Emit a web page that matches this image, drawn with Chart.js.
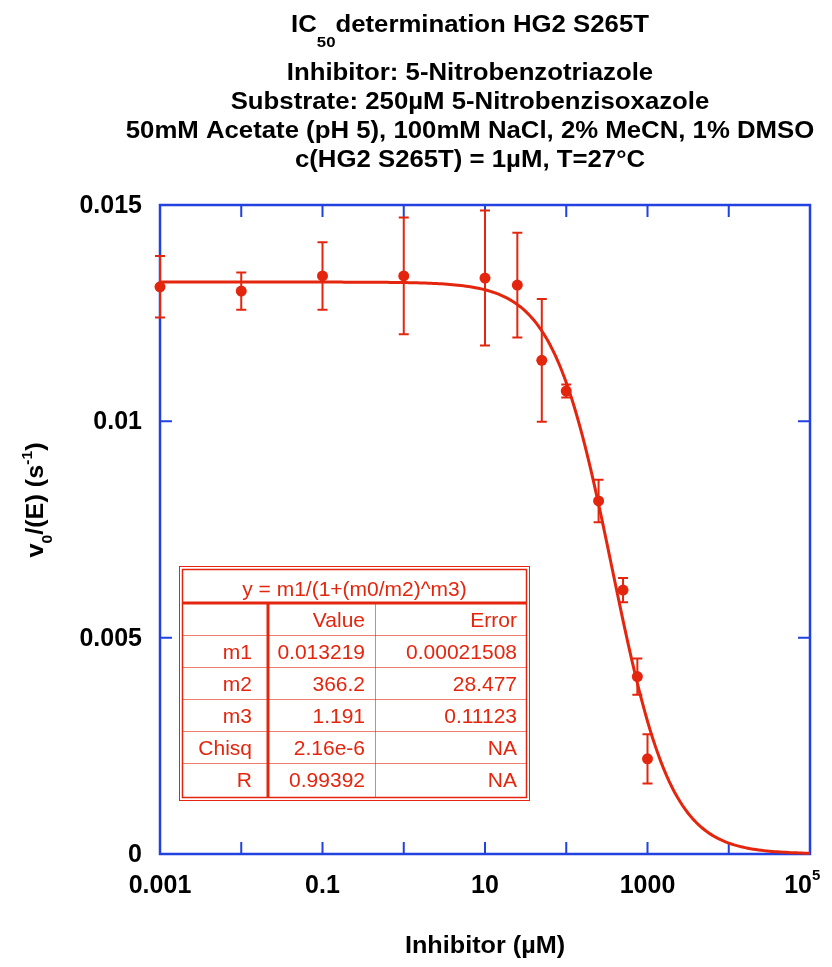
<!DOCTYPE html>
<html>
<head>
<meta charset="utf-8">
<script src="https://cdn.jsdelivr.net/npm/chart.js@4.4.0/dist/chart.umd.min.js"></script>
<style>
  html, body { margin: 0; padding: 0; background: #fff; }
</style>
</head>
<body>
<canvas id="chart" width="832" height="967"></canvas>
<script>
// measured data (inhibitor in uM, v0/[E] in 1/s)
const inhibitorConc = [0.001, 0.01, 0.1, 1, 10, 25, 50, 100, 250, 500, 750, 1000];
const rateValues = [0.01311, 0.01301, 0.01336, 0.01336, 0.01331, 0.01315, 0.01141, 0.0107, 0.00816, 0.0061, 0.0041, 0.0022];
const rateErrors = [0.00071, 0.00043, 0.00078, 0.00135, 0.00156, 0.00121, 0.00142, 0.00015, 0.00049, 0.00028, 0.00042, 0.00057];

// fit result  y = m1/(1+(x/m2)^m3)
const fitM1 = 0.013219;
const fitM2 = 366.2;
const fitM3 = 1.191;

const xTickValues = [1e-3, 1e-2, 1e-1, 1, 10, 100, 1e3, 1e4, 1e5];
const xTickLabels = ['0.001', '', '0.1', '', '10', '', '1000', '', '10^5'];
const yTickValues = [0, 0.005, 0.01, 0.015];
const yTickLabels = ['0', '0.005', '0.01', '0.015'];

const titleLines = [
  'Inhibitor: 5-Nitrobenzotriazole',
  'Substrate: 250\u00b5M 5-Nitrobenzisoxazole',
  '50mM Acetate (pH 5), 100mM NaCl, 2% MeCN, 1% DMSO',
  'c(HG2 S265T) = 1\u00b5M, T=27\u00b0C'
];

const tableHeader = 'y = m1/(1+(m0/m2)^m3)';
const tableColumns = ['', 'Value', 'Error'];
const tableRows = [
  ['m1', '0.013219', '0.00021508'],
  ['m2', '366.2', '28.477'],
  ['m3', '1.191', '0.11123'],
  ['Chisq', '2.16e-6', 'NA'],
  ['R', '0.99392', 'NA']
];

const RED = '#e4260e';
const BLUE = '#2141e0';
const FONT = '"Liberation Sans", Arial, Helvetica, sans-serif';

const points = inhibitorConc.map((x, i) => ({ x: x, y: rateValues[i] }));
const curve = [];
for (let k = 0; k <= 240; k++) {
  const x = Math.pow(10, -3 + k * 8 / 240);
  curve.push({ x: x, y: fitM1 / (1 + Math.pow(x / fitM2, fitM3)) });
}

// draws runs of text with different size / vertical offset, centred on cx
function drawRuns(ctx, runs, cx, y, sx) {
  sx = sx || 1;
  let total = 0;
  runs.forEach(r => {
    ctx.font = 'bold ' + r.size + 'px ' + FONT;
    r.w = ctx.measureText(r.t).width * sx;
    total += r.w;
  });
  let x = cx - total / 2;
  ctx.textAlign = 'left';
  ctx.textBaseline = 'alphabetic';
  runs.forEach(r => {
    ctx.font = 'bold ' + r.size + 'px ' + FONT;
    ctx.save();
    ctx.translate(x, y + (r.dy || 0));
    ctx.scale(sx, 1);
    ctx.fillText(r.t, 0, 0);
    ctx.restore();
    x += r.w;
  });
}

const decor = {
  id: 'decor',
  beforeDatasetsDraw(chart) {
    const ctx = chart.ctx;
    const a = chart.chartArea;
    const xs = chart.scales.x, ys = chart.scales.y;
    ctx.save();
    ctx.strokeStyle = BLUE;
    ctx.lineWidth = 2.5;
    ctx.strokeRect(a.left, a.top, a.right - a.left, a.bottom - a.top);
    ctx.lineWidth = 2;
    ctx.beginPath();
    xTickValues.forEach(v => {
      const px = xs.getPixelForValue(v);
      ctx.moveTo(px, a.bottom); ctx.lineTo(px, a.bottom - 12);
      ctx.moveTo(px, a.top); ctx.lineTo(px, a.top + 12);
    });
    yTickValues.forEach(v => {
      const py = ys.getPixelForValue(v);
      ctx.moveTo(a.left, py); ctx.lineTo(a.left + 12, py);
      ctx.moveTo(a.right, py); ctx.lineTo(a.right - 12, py);
    });
    ctx.stroke();
    ctx.restore();
  },
  afterDatasetsDraw(chart) {
    const ctx = chart.ctx;
    const xs = chart.scales.x, ys = chart.scales.y;
    ctx.save();
    ctx.strokeStyle = RED;
    ctx.lineWidth = 2;
    ctx.beginPath();
    inhibitorConc.forEach((x, i) => {
      const px = xs.getPixelForValue(x);
      const hi = ys.getPixelForValue(rateValues[i] + rateErrors[i]);
      const lo = ys.getPixelForValue(rateValues[i] - rateErrors[i]);
      ctx.moveTo(px, hi); ctx.lineTo(px, lo);
      ctx.moveTo(px - 5, hi); ctx.lineTo(px + 5, hi);
      ctx.moveTo(px - 5, lo); ctx.lineTo(px + 5, lo);
    });
    ctx.stroke();
    ctx.restore();
  },
  afterDraw(chart) {
    const ctx = chart.ctx;
    const a = chart.chartArea;
    const xs = chart.scales.x, ys = chart.scales.y;
    ctx.save();
    ctx.fillStyle = '#000';

    // title
    const cx = 470;
    drawRuns(ctx, [{ t: 'IC', size: 23 }, { t: '50', size: 15, dy: 15 }, { t: 'determination HG2 S265T', size: 23 }], cx, 32, 1.12);
    titleLines.forEach((t, i) => drawRuns(ctx, [{ t: t, size: 23 }], cx, 80 + i * 29, 1.12));

    // tick labels
    ctx.font = 'bold 25px ' + FONT;
    xTickValues.forEach((v, i) => {
      const lab = xTickLabels[i];
      if (!lab) return;
      const px = xs.getPixelForValue(v);
      if (lab === '10^5') {
        ctx.textAlign = 'right';
        ctx.font = 'bold 25px ' + FONT;
        ctx.fillText('10', px + 2, 893);
        ctx.textAlign = 'left';
        ctx.font = 'bold 15px ' + FONT;
        ctx.fillText('5', px + 2, 880);
      } else {
        ctx.textAlign = 'center';
        ctx.font = 'bold 25px ' + FONT;
        ctx.fillText(lab, px, 893);
      }
    });
    ctx.textAlign = 'right';
    ctx.textBaseline = 'middle';
    ctx.font = 'bold 25px ' + FONT;
    yTickValues.forEach((v, i) => {
      ctx.fillText(yTickLabels[i], a.left - 18, ys.getPixelForValue(v) + 1);
    });

    // axis titles
    drawRuns(ctx, [{ t: 'Inhibitor (\u00b5M)', size: 24 }], 485, 953, 1.05);
    ctx.save();
    ctx.translate(43, 500);
    ctx.rotate(-Math.PI / 2);
    drawRuns(ctx, [
      { t: 'v', size: 24 }, { t: '0', size: 15, dy: 9 },
      { t: '/(E) (s', size: 24 }, { t: '-1', size: 15, dy: -11 }, { t: ')', size: 24 }
    ], 0, 0, 1.05);
    ctx.restore();

    // fit table
    const L = 179.5, R = 529.5, T = 566.5, B = 800.5;
    ctx.fillStyle = '#fff';
    ctx.fillRect(L, T, R - L, B - T);
    ctx.strokeStyle = RED;
    ctx.lineWidth = 1;
    ctx.strokeRect(L, T, R - L, B - T);
    ctx.lineWidth = 1.5;
    ctx.strokeRect(L + 3, T + 3, R - L - 6, B - T - 6);
    const headB = 603, rowH = 32;
    const colX = [268, 375];
    const colRight = [252, 365, 517];
    ctx.lineWidth = 3;
    ctx.beginPath();
    ctx.moveTo(L + 3, headB); ctx.lineTo(R - 3, headB);
    ctx.moveTo(colX[0], headB); ctx.lineTo(colX[0], B - 3);
    ctx.stroke();
    ctx.lineWidth = 1;
    ctx.globalAlpha = 0.6;
    ctx.beginPath();
    for (let r = 1; r <= tableRows.length; r++) {
      const y = Math.round(headB + r * rowH) + 0.5;
      ctx.moveTo(L + 3, y); ctx.lineTo(R - 3, y);
    }
    ctx.moveTo(colX[1] + 0.5, headB); ctx.lineTo(colX[1] + 0.5, B - 3);
    ctx.stroke();
    ctx.globalAlpha = 1;

    ctx.fillStyle = RED;
    ctx.textBaseline = 'alphabetic';
    ctx.font = '21px ' + FONT;
    ctx.textAlign = 'center';
    ctx.fillText(tableHeader, (L + R) / 2, 596);
    ctx.textAlign = 'right';
    const allRows = [tableColumns].concat(tableRows);
    allRows.forEach((row, r) => {
      const yc = headB + r * rowH + rowH / 2 + 8;
      row.forEach((cell, c) => ctx.fillText(cell, colRight[c], yc));
    });
    ctx.restore();
  }
};

new Chart(document.getElementById('chart'), {
  type: 'scatter',
  data: {
    datasets: [
      {
        data: curve,
        showLine: true,
        borderColor: RED,
        borderWidth: 3,
        pointRadius: 0,
        clip: false
      },
      {
        data: points,
        backgroundColor: RED,
        borderColor: RED,
        pointRadius: 5.5,
        borderWidth: 0,
        clip: false
      }
    ]
  },
  options: {
    responsive: false,
    animation: false,
    events: [],
    layout: { padding: { top: 205, right: 22, left: 0, bottom: 0 } },
    plugins: { legend: { display: false }, tooltip: { enabled: false } },
    scales: {
      x: {
        type: 'logarithmic',
        min: 1e-3,
        max: 1e5,
        grid: { display: false },
        border: { display: false },
        ticks: { display: false },
        afterFit(s) { s.height = 113; }
      },
      y: {
        min: 0,
        max: 0.015,
        grid: { display: false },
        border: { display: false },
        ticks: { display: false },
        afterFit(s) { s.width = 160; }
      }
    }
  },
  plugins: [decor]
});
</script>
</body>
</html>
